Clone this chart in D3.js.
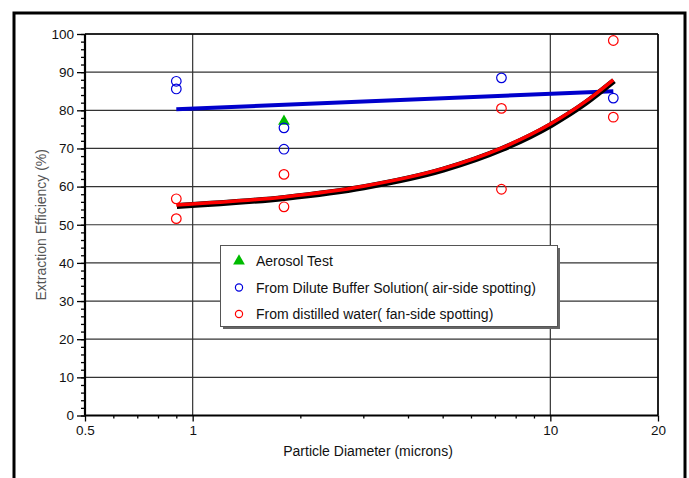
<!DOCTYPE html>
<html>
<head>
<meta charset="utf-8">
<script src="https://cdn.jsdelivr.net/npm/d3@7"></script>
<style>
  body { margin: 0; background: #fff; }
  svg { display: block; font-family: "Liberation Sans", Arial, sans-serif; }
</style>
</head>
<body>
<svg id="chart" width="689" height="478"></svg>
<script>
// measured values (particle diameter in microns, efficiency in %)
const aerosolX = [1.8];
const aerosolY = [77.1];

const bufferX = [0.9, 0.9, 1.8, 1.8, 7.3, 15];
const bufferY = [87.6, 85.6, 75.4, 69.8, 88.5, 83.2];

const waterX = [0.9, 0.9, 1.8, 1.8, 7.3, 7.3, 15, 15];
const waterY = [56.8, 51.6, 63.2, 54.7, 80.5, 59.3, 98.3, 78.2];

// fitted curves
const bufferFitX = [0.9, 15];
const bufferFitY = [80.3, 85.0];
const waterFitX = [0.9, 1.8, 3, 5, 7.3, 10, 12.5, 15];
const waterFitY = [55.2, 57.3, 60.1, 64.7, 70.1, 76.4, 82.2, 88.0];

const xTickValues = [0.5, 1, 10, 20];
const xMinorTicks = [0.6, 0.7, 0.8, 0.9, 2, 3, 4, 5, 6, 7, 8, 9];
const yTickValues = d3.range(0, 101, 10);
const yMinorTicks = d3.range(0, 101, 2);

const legendLabels = [
    "Aerosol Test",
    "From Dilute Buffer Solution( air-side spotting)",
    "From distilled water( fan-side spotting)"
];

const margin = {left: 85, top: 34, right: 658, bottom: 415.5};

const svg = d3.select('#chart');

// outer frame
svg.append('rect')
    .attr('x', 14).attr('y', 13)
    .attr('width', 671).attr('height', 480)
    .attr('fill', 'none')
    .attr('stroke', '#000')
    .attr('stroke-width', 3);

const x = d3.scaleLog().domain([0.5, 20]).range([margin.left, margin.right]);
const y = d3.scaleLinear().domain([0, 100]).range([margin.bottom, margin.top]);

// gridlines
const grid = svg.append('g');
grid.selectAll('.hgrid')
    .data(yTickValues.filter(d => d > 0))
    .enter().append('line')
    .attr('x1', margin.left).attr('x2', margin.right)
    .attr('y1', d => y(d)).attr('y2', d => y(d))
    .attr('stroke', '#333').attr('stroke-width', 1.2);
grid.selectAll('.vgrid')
    .data([1, 10, 20])
    .enter().append('line')
    .attr('x1', d => x(d)).attr('x2', d => x(d))
    .attr('y1', margin.top).attr('y2', margin.bottom)
    .attr('stroke', '#333').attr('stroke-width', 1.2);

// y axis
const yAxis = svg.append('g')
    .attr('transform', `translate(${margin.left},0)`)
    .call(d3.axisLeft(y).tickValues(yTickValues).tickSize(8).tickPadding(3));
svg.append('g')
    .attr('transform', `translate(${margin.left},0)`)
    .call(d3.axisLeft(y).tickValues(yMinorTicks).tickSize(4).tickFormat(''))
    .call(g => g.select('.domain').remove());

// x axis
const xAxis = svg.append('g')
    .attr('transform', `translate(0,${margin.bottom})`)
    .call(d3.axisBottom(x).tickValues(xTickValues).tickFormat(d3.format('')).tickSize(6).tickPadding(4));
svg.append('g')
    .attr('transform', `translate(0,${margin.bottom})`)
    .call(d3.axisBottom(x).tickValues(xMinorTicks).tickSize(3).tickFormat(''))
    .call(g => g.select('.domain').remove());

svg.selectAll('.tick text')
    .attr('font-size', 13.5)
    .attr('fill', '#111')
    .style('font-family', '"Liberation Sans", Arial, sans-serif');
svg.selectAll('.tick line').attr('stroke', '#000').attr('stroke-width', 1.3);
yAxis.select('.domain').attr('d', `M0,${margin.bottom}V${margin.top}`).attr('stroke-width', 2.2);
xAxis.select('.domain').attr('d', `M${margin.left},0H${margin.right}`).attr('stroke-width', 2.2);

// top and right edges of the plot box
svg.append('line')
    .attr('x1', margin.left).attr('x2', margin.right)
    .attr('y1', margin.top).attr('y2', margin.top)
    .attr('stroke', '#000').attr('stroke-width', 1.5);
svg.append('line')
    .attr('x1', margin.right).attr('x2', margin.right)
    .attr('y1', margin.top).attr('y2', margin.bottom)
    .attr('stroke', '#000').attr('stroke-width', 1.5);

// axis titles
svg.append('text')
    .attr('x', 368).attr('y', 456)
    .attr('text-anchor', 'middle')
    .attr('font-size', 14)
    .attr('fill', '#111')
    .text('Particle Diameter (microns)');
svg.append('text')
    .attr('transform', `translate(46,${(margin.top + margin.bottom) / 2}) rotate(-90)`)
    .attr('text-anchor', 'middle')
    .attr('font-size', 14)
    .attr('fill', '#555')
    .text('Extraction Efficiency (%)');

// fit lines
const line = d3.line()
    .x(d => x(d[0]))
    .y(d => y(d[1]));

const bufferFit = d3.zip(bufferFitX, bufferFitY);
const waterFit = d3.zip(waterFitX, waterFitY);

svg.append('path')
    .datum(bufferFit)
    .attr('d', line)
    .attr('fill', 'none')
    .attr('stroke', '#0000cc')
    .attr('stroke-width', 4);

const curved = line.curve(d3.curveMonotoneX);
svg.append('path')
    .datum(waterFit)
    .attr('d', curved)
    .attr('transform', 'translate(0.6,1)')
    .attr('fill', 'none')
    .attr('stroke', '#000')
    .attr('stroke-width', 6);
svg.append('path')
    .datum(waterFit)
    .attr('d', curved)
    .attr('fill', 'none')
    .attr('stroke', '#ff0000')
    .attr('stroke-width', 3.5);

// scatter points
svg.append('g').selectAll('circle')
    .data(d3.zip(waterX, waterY))
    .enter().append('circle')
    .attr('cx', d => x(d[0])).attr('cy', d => y(d[1]))
    .attr('r', 4.8)
    .attr('fill', 'none')
    .attr('stroke', '#ff0000')
    .attr('stroke-width', 1.2);

const tri = d3.symbol().type(d3.symbolTriangle).size(60);
svg.append('g').selectAll('path')
    .data(d3.zip(aerosolX, aerosolY))
    .enter().append('path')
    .attr('d', tri)
    .attr('transform', d => `translate(${x(d[0])},${y(d[1])})`)
    .attr('fill', '#00bb00');

svg.append('g').selectAll('circle')
    .data(d3.zip(bufferX, bufferY))
    .enter().append('circle')
    .attr('cx', d => x(d[0])).attr('cy', d => y(d[1]))
    .attr('r', 4.8)
    .attr('fill', 'none')
    .attr('stroke', '#0000dd')
    .attr('stroke-width', 1.2);

// legend
const legend = svg.append('g');
legend.append('rect')
    .attr('x', 223).attr('y', 248)
    .attr('width', 337).attr('height', 81)
    .attr('fill', '#666');
legend.append('rect')
    .attr('x', 220.5).attr('y', 245.5)
    .attr('width', 337).attr('height', 81)
    .attr('fill', '#fff')
    .attr('stroke', '#555')
    .attr('stroke-width', 1);

const rowY = [261, 287.5, 314];
const legendSymbols = legend.selectAll('.entry')
    .data(legendLabels)
    .enter().append('g')
    .attr('transform', (d, i) => `translate(239,${rowY[i]})`);
legendSymbols.append('text')
    .attr('x', 17).attr('y', 5)
    .attr('font-size', 14)
    .attr('fill', '#111')
    .text(d => d);
legendSymbols.filter((d, i) => i === 0).append('path')
    .attr('d', d3.symbol().type(d3.symbolTriangle).size(60))
    .attr('fill', '#00bb00');
legendSymbols.filter((d, i) => i > 0).append('circle')
    .attr('r', 3.6)
    .attr('fill', 'none')
    .attr('stroke', (d, i) => i === 0 ? '#0000dd' : '#ff0000')
    .attr('stroke-width', 1.2);
</script>
</body>
</html>
